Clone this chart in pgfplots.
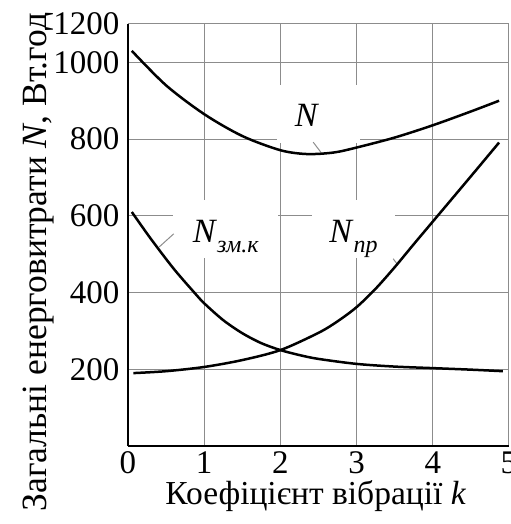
\documentclass[border=0pt]{standalone}
\usepackage{pgfplots}
\pgfplotsset{compat=1.18}
\usepackage{fontspec}
\setmainfont{Liberation Serif}

% energy consumption components versus vibration coefficient
\pgfplotstableread{
k    N
0.05 1030
0.5  940
1.0  865
1.5  808
2.0  771
2.35 761
2.7  765
3.0  778
3.5  804
4.0  836
4.5  872
4.87 900
}\totalN

\pgfplotstableread{
k    N
0.05 610
0.3  540
0.6  462
0.87 400
1.0  372
1.25 328
1.5  294
1.75 268
2.0  250
2.25 237
2.5  227
3.0  214
3.5  207
4.0  203
4.5  199
4.92 195
}\Nzmk

\pgfplotstableread{
k    N
0.07 190
0.5  195
1.0  206
1.5  224
2.0  250
2.5  295
2.75 325
3.0  362
3.25 410
3.5  466
3.75 526
4.0  585
4.5  703
4.87 791
}\Npr

\begin{document}
\begin{tikzpicture}
\begin{axis}[
  at={(0,0)}, anchor=south west,
  scale only axis, width=381bp, height=422bp,
  xmin=0, xmax=5, ymin=0, ymax=1100,
  xtick={0,1,2,3,4,5}, xticklabels={0,1,2,3,4,5},
  ytick={200,400,600,800,1000,1100},
  yticklabels={200,400,600,800,1000,1200},
  /pgf/number format/assume math mode=true,
  major tick length=0pt,
  axis x line*=bottom, axis y line*=left,
  axis line style={-, line width=2bp, black},
  grid=major, grid style={black!45, line width=1bp},
  tick label style={font=\fontsize{33bp}{33bp}\selectfont},
  yticklabel style={xshift=-5bp},
  xticklabel style={yshift=-2bp},
  xlabel={Коефіцієнт вібрації \textit{k}},
  ylabel={Загальні енерговитрати \textit{N}, Вт.год},
  xlabel style={font=\fontsize{33.5bp}{33.5bp}\selectfont,
    at={(axis description cs:0.493,-0.1398)}, anchor=base},
  ylabel style={font=\fontsize{35.5bp}{35.5bp}\selectfont,
    at={(axis description cs:-0.2126,0.436)}, anchor=base, rotate=0},
  clip=false,
]
  % label panels cover the grid behind the curve names
  \fill[white] (axis cs:1.95,790) rectangle (axis cs:3.04,942);
  \fill[white] (axis cs:0.59,491) rectangle (axis cs:1.97,642);
  \fill[white] (axis cs:2.42,491) rectangle (axis cs:3.51,642);

  \draw[black!45, line width=1bp] (axis cs:2.43,792) -- (axis cs:2.53,766);
  \draw[black!45, line width=1bp] (axis cs:0.60,553) -- (axis cs:0.41,519);
  \draw[black!45, line width=1bp] (axis cs:3.48,488) -- (axis cs:3.53,475);

  \node[font=\fontsize{34bp}{34bp}\selectfont, anchor=base] at (axis cs:2.35,833) {\textit{N}};
  \node[font=\fontsize{34bp}{34bp}\selectfont, anchor=base west, inner sep=0pt] at (axis cs:0.85,530)
    {\textit{N}\raisebox{-0.3em}{\fontsize{24bp}{24bp}\selectfont\textit{зм.к}}};
  \node[font=\fontsize{34bp}{34bp}\selectfont, anchor=base west, inner sep=0pt] at (axis cs:2.64,530)
    {\textit{N}\raisebox{-0.3em}{\fontsize{24bp}{24bp}\selectfont\textit{пр}}};

  \addplot[black, line width=2.5bp, smooth, tension=0.5] table[x=k, y=N] {\totalN};
  \addplot[black, line width=2.5bp, smooth, tension=0.5] table[x=k, y=N] {\Nzmk};
  \addplot[black, line width=2.5bp, smooth, tension=0.5] table[x=k, y=N] {\Npr};
\end{axis}
\pgfresetboundingbox
\path[use as bounding box] (-128bp,-78bp) rectangle (383bp,446bp);
\end{tikzpicture}
\end{document}
